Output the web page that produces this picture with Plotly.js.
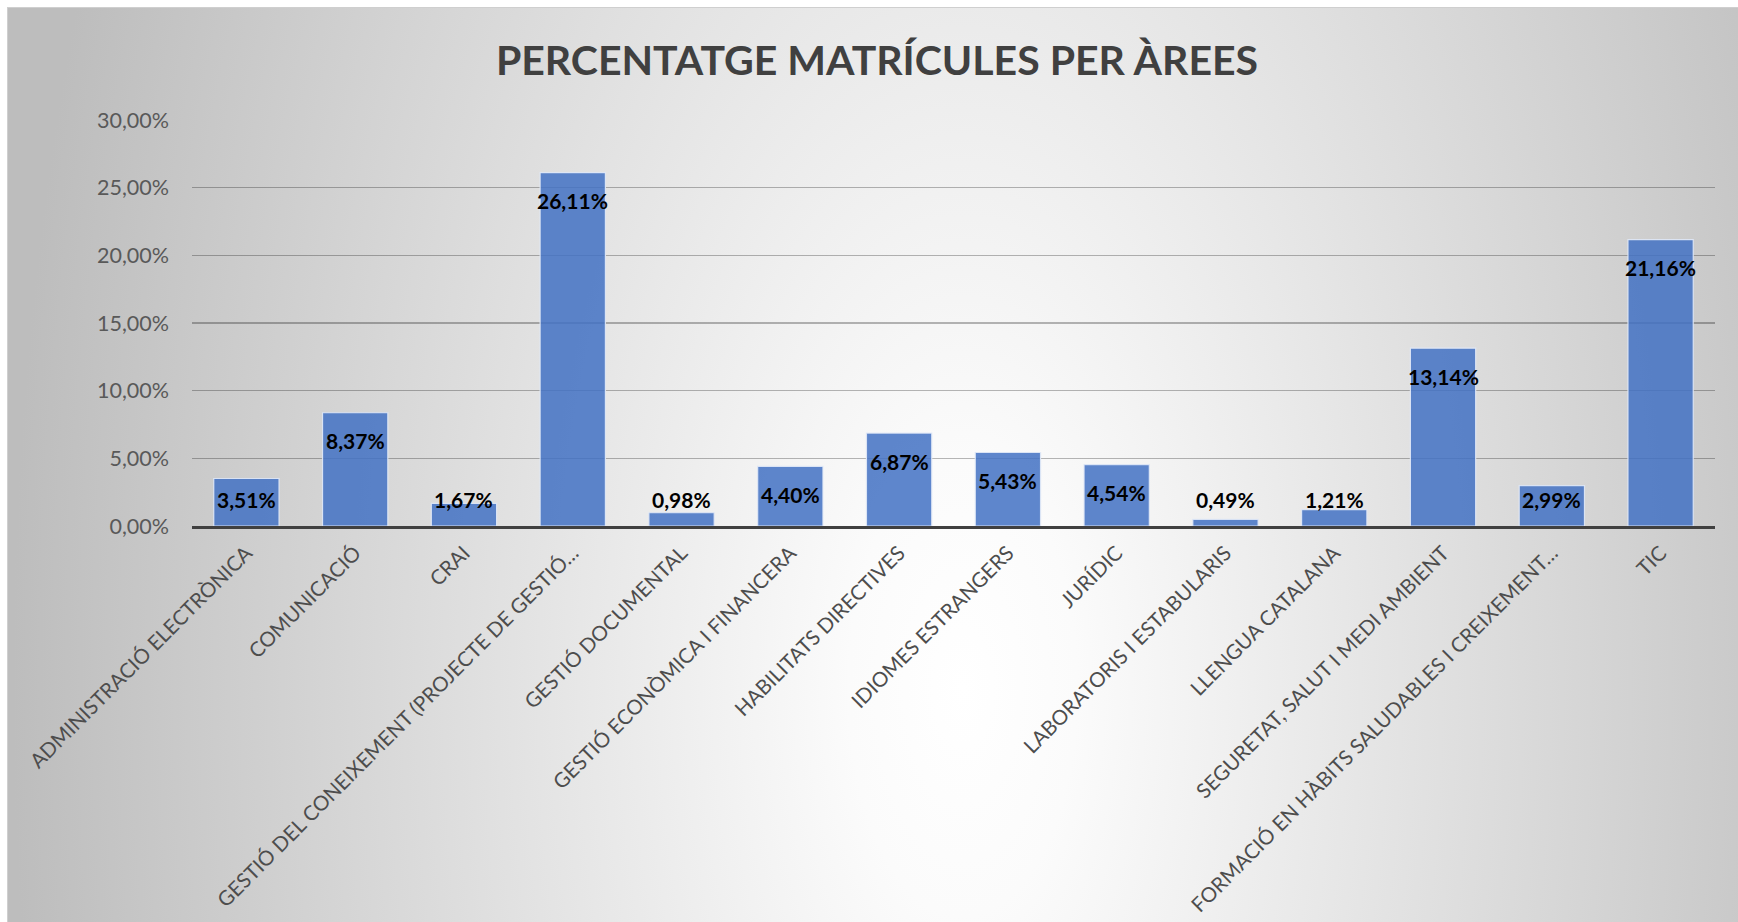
<!DOCTYPE html>
<html>
<head>
<meta charset="utf-8">
<script src="https://cdn.plot.ly/plotly-3.0.1.min.js"></script>
<style>
  html, body { margin: 0; padding: 0; background: #ffffff; width: 1738px; height: 922px; overflow: hidden; }
  #chart {
    position: absolute; left: 7px; top: 7px; width: 1731px; height: 915px;
    box-sizing: border-box;
    border-top: 1px solid #cfcfcf; border-left: 1px solid #cfcfcf;
    background: radial-gradient(ellipse 950px 1900px at 955px 680px, #ffffff 0%, #fbfbfb 12%, #bdbdbd 100%);
  }
</style>
</head>
<body>
<div id="chart"></div>
<script>
// ---- data ----
const categories = [
  "ADMINISTRACIÓ ELECTRÒNICA",
  "COMUNICACIÓ",
  "CRAI",
  "GESTIÓ DEL CONEIXEMENT (PROJECTE DE GESTIÓ…",
  "GESTIÓ DOCUMENTAL",
  "GESTIÓ ECONÒMICA I FINANCERA",
  "HABILITATS DIRECTIVES",
  "IDIOMES ESTRANGERS",
  "JURÍDIC",
  "LABORATORIS I ESTABULARIS",
  "LLENGUA CATALANA",
  "SEGURETAT, SALUT I MEDI AMBIENT",
  "FORMACIÓ EN HÀBITS SALUDABLES I CREIXEMENT…",
  "TIC"
];
const percentages = [3.51, 8.37, 1.67, 26.11, 0.98, 4.40, 6.87, 5.43, 4.54, 0.49, 1.21, 13.14, 2.99, 21.16];
const valueLabels = ["3,51%", "8,37%", "1,67%", "26,11%", "0,98%", "4,40%", "6,87%", "5,43%", "4,54%", "0,49%", "1,21%", "13,14%", "2,99%", "21,16%"];
const yTickValues = [0, 5, 10, 15, 20, 25, 30];
const yTickLabels = ["0,00%", "5,00%", "10,00%", "15,00%", "20,00%", "25,00%", "30,00%"];
const chartTitle = "PERCENTATGE MATRÍCULES PER ÀREES";

// ---- layout ----
const W = 1731, H = 915;
const margin = { l: 184, r: 24, t: 112, b: 397, pad: 0 };
const yMax = 30;
const plotH = H - margin.t - margin.b;
const pxPerUnit = plotH / yMax;

const annotations = percentages.map((v, i) => {
  const hPx = v * pxPerUnit;
  const fits = hPx > 53;
  return {
    x: categories[i], y: fits ? v : 0,
    xref: 'x', yref: 'y',
    text: valueLabels[i],
    showarrow: false,
    yanchor: 'middle', xanchor: 'center',
    yshift: fits ? -28 : 27,
    font: { family: 'Lato, sans-serif', size: 21, color: '#000000', weight: 'bold' }
  };
});

const trace = {
  type: 'bar',
  x: categories,
  y: percentages,
  marker: { color: 'rgba(68,114,196,0.86)', line: { color: 'rgba(225,233,247,0.9)', width: 1.2 } },
  hoverinfo: 'none'
};

const layout = {
  width: W, height: H,
  margin: margin,
  paper_bgcolor: 'rgba(0,0,0,0)',
  plot_bgcolor: 'rgba(0,0,0,0)',
  bargap: 0.4,
  showlegend: false,
  title: {
    text: '<b>' + chartTitle + '</b>',
    x: 0.502, xref: 'container', xanchor: 'center',
    y: 0.943, yref: 'container', yanchor: 'middle',
    font: { family: 'Lato, sans-serif', size: 41, color: '#404040' }
  },
  xaxis: {
    type: 'category',
    tickangle: -45,
    showline: true, linecolor: '#404040', linewidth: 3,
    showgrid: false, ticks: '',
    tickfont: { family: 'Lato, sans-serif', size: 20.5, color: '#4d4d4d' },
    ticklabelstandoff: 4,
    fixedrange: true
  },
  yaxis: {
    range: [0, yMax],
    tickvals: yTickValues, ticktext: yTickLabels,
    showgrid: true, gridcolor: 'rgba(0,0,0,0.28)', gridwidth: 1.2,
    zeroline: false, showline: false, ticks: '',
    tickfont: { family: 'Lato, sans-serif', size: 21.5, color: '#595959' },
    ticklabelstandoff: 22,
    fixedrange: true
  },
  annotations: annotations
};

Plotly.newPlot('chart', [trace], layout, { displayModeBar: false, staticPlot: true });
</script>
</body>
</html>
